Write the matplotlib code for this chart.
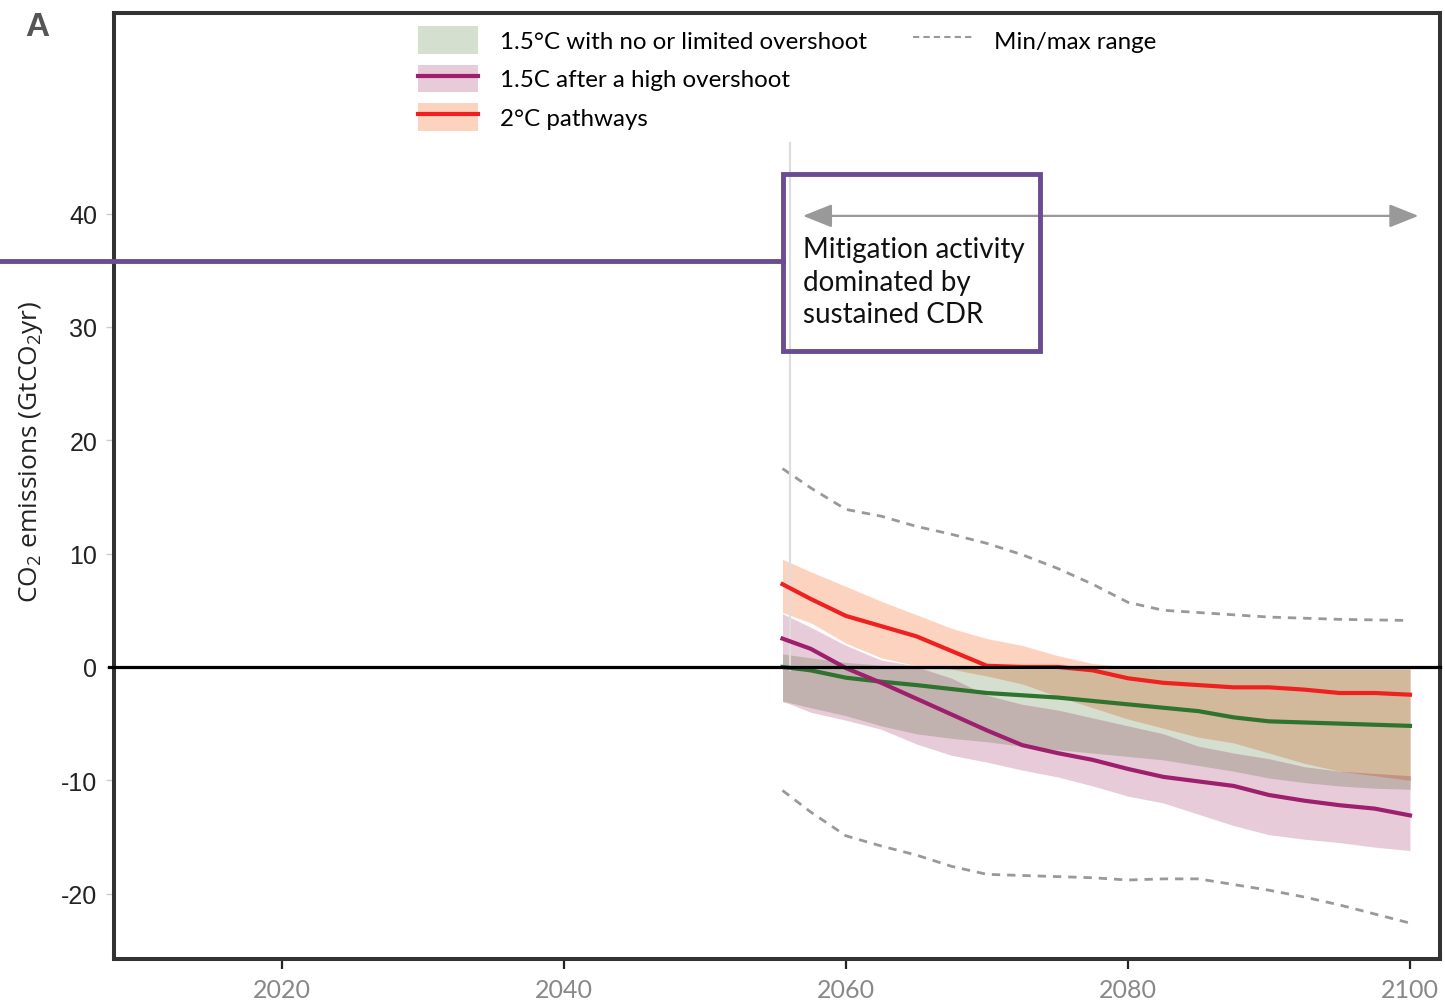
import numpy as np
import matplotlib
matplotlib.use('Agg')
import matplotlib.pyplot as plt
from matplotlib.patches import Patch, Rectangle
from matplotlib.lines import Line2D
from matplotlib.legend_handler import HandlerTuple
from matplotlib.colors import to_rgb

# pathway data (GtCO2/yr)
years = [2055.5, 2057.5, 2060, 2062.5, 2065, 2067.5, 2070, 2072.5, 2075, 2077.5,
         2080, 2082.5, 2085, 2087.5, 2090, 2092.5, 2095, 2097.5, 2100]

p15_med = [0.0, -0.3, -0.95, -1.3, -1.6, -1.95, -2.3, -2.5, -2.7, -3.0,
           -3.3, -3.6, -3.9, -4.45, -4.8, -4.9, -5.0, -5.1, -5.2]
p15_high = [1.15, 0.8, 0.4, 0.15, 0.0, -0.1, -0.2, -0.2, -0.2, -0.2,
            -0.2, -0.2, -0.2, -0.2, -0.2, -0.2, -0.2, -0.2, -0.2]
p15_low = [-3.1, -3.6, -4.3, -5.2, -5.9, -6.3, -6.6, -7.0, -7.3, -7.6,
           -7.9, -8.2, -8.7, -9.2, -9.8, -10.2, -10.5, -10.7, -10.8]

os_med = [2.5, 1.6, -0.1, -1.4, -2.8, -4.2, -5.6, -6.9, -7.6, -8.2,
          -9.0, -9.7, -10.1, -10.5, -11.3, -11.8, -12.2, -12.5, -13.1]
os_high = [4.7, 3.5, 1.9, 0.6, 0.1, -1.0, -2.5, -3.3, -3.8, -4.5,
           -5.2, -5.9, -7.0, -7.6, -8.1, -8.8, -9.2, -9.4, -9.6]
os_low = [-3.0, -4.0, -4.7, -5.5, -6.8, -7.8, -8.4, -9.1, -9.7, -10.5,
          -11.4, -12.0, -13.0, -14.0, -14.8, -15.2, -15.5, -15.9, -16.2]

p2_med = [7.3, 6.0, 4.5, 3.6, 2.7, 1.4, 0.1, 0.0, 0.0, -0.3,
          -1.0, -1.4, -1.6, -1.8, -1.8, -2.0, -2.3, -2.3, -2.45]
p2_high = [9.5, 8.4, 7.1, 5.8, 4.6, 3.4, 2.5, 1.9, 1.0, 0.3,
           0.0, -0.2, -0.2, -0.2, -0.2, -0.2, -0.2, -0.2, -0.2]
p2_low = [4.8, 3.9, 2.1, 0.8, 0.1, -0.2, -0.8, -1.5, -2.6, -3.6,
          -4.6, -5.4, -6.2, -6.7, -7.6, -8.5, -9.2, -9.6, -10.0]

range_max = [17.5, 15.8, 13.9, 13.3, 12.4, 11.7, 10.9, 9.9, 8.7, 7.3,
             5.7, 5.0, 4.8, 4.6, 4.4, 4.3, 4.2, 4.15, 4.1]
range_min = [-10.9, -12.8, -14.9, -15.8, -16.6, -17.6, -18.3, -18.4, -18.5, -18.6,
             -18.8, -18.7, -18.7, -19.2, -19.7, -20.3, -21.0, -21.8, -22.6]

labels = ['1.5°C with no or limited overshoot', '1.5C after a high overshoot',
          '2°C pathways', 'Min/max range']

c_green, c_pink, c_orange = '#d5dfcf', '#e8cbd8', '#fcd3bf'
l_green, l_purple, l_red = '#2e732e', '#9e1f6e', '#ee2020'
c_box = '#6a4c93'


def mult(*cols):
    out = np.ones(3)
    for c in cols:
        out = out * np.array(to_rgb(c))
    return tuple(out)


plt.rcParams['mathtext.fontset'] = 'custom'
plt.rcParams['mathtext.rm'] = 'Open Sans'
plt.rcParams['axes.unicode_minus'] = False

fig = plt.figure(figsize=(14.45, 10.03), dpi=100)
ax = fig.add_axes([114 / 1445, 1 - 960 / 1003, 1326 / 1445, 946 / 1003])

x = np.array(years)
bands = [(np.array(p15_low), np.array(p15_high), c_green),
         (np.array(os_low), np.array(os_high), c_pink),
         (np.array(p2_low), np.array(p2_high), c_orange)]

# single bands, then overlaps with multiplied colours
for lo, hi, c in bands:
    ax.fill_between(x, lo, hi, color=c, lw=0, zorder=1)
for i in range(3):
    for j in range(i + 1, 3):
        lo = np.maximum(bands[i][0], bands[j][0])
        hi = np.minimum(bands[i][1], bands[j][1])
        ax.fill_between(x, lo, hi, where=hi > lo, interpolate=True,
                        color=mult(bands[i][2], bands[j][2]), lw=0, zorder=1.5)
lo = np.maximum.reduce([b[0] for b in bands])
hi = np.minimum.reduce([b[1] for b in bands])
ax.fill_between(x, lo, hi, where=hi > lo, interpolate=True,
                color=mult(c_green, c_pink, c_orange), lw=0, zorder=1.8)

ax.plot(x, range_max, ls=(0, (3, 2.5)), color='#999999', lw=2, zorder=2)
ax.plot(x, range_min, ls=(0, (3, 2.5)), color='#999999', lw=2, zorder=2)

ax.plot(x, p2_med, color=l_red, lw=3, zorder=3)
ax.plot(x, p15_med, color=l_green, lw=3, zorder=3)
ax.plot(x, os_med, color=l_purple, lw=3, zorder=3)

ax.axhline(0, xmin=-0.004, xmax=1, color='black', lw=2.3, zorder=5, clip_on=False)

# annotation elements
ax.plot([2056.03, 2056.03], [46.2, -0.3], color='#dddddd', lw=1.5, zorder=2.5)
ax.plot([2000, 2055.55], [35.8, 35.8], color=c_box, lw=3.5, clip_on=False, zorder=6)
ax.add_patch(Rectangle((2055.55, 27.9), 18.2, 15.6, fill=False, ec=c_box, lw=3.5, zorder=6))
ax.annotate('', xy=(2100.6, 39.8), xytext=(2056.95, 39.8),
            arrowprops=dict(arrowstyle='<|-|>,head_length=1.0,head_width=0.4',
                            mutation_scale=18, color='#999999', lw=1.6,
                            shrinkA=0, shrinkB=0), zorder=4)
ax.text(2056.95, 38.0, 'Mitigation activity\ndominated by\nsustained CDR',
        family='Lato', fontsize=20, va='top', ha='left', linespacing=1.3,
        color='#111111', zorder=7)

ax.set_xlim(2008.09, 2102.13)
ax.set_ylim(-25.77, 57.7)
ax.set_xticks([2020, 2040, 2060, 2080, 2100])
ax.set_yticks([-20, -10, 0, 10, 20, 30, 40])
ax.tick_params(axis='x', length=7, width=1.6, color='#222222', labelcolor='#888888',
               labelsize=18, pad=7)
ax.tick_params(axis='y', length=6, width=1, color='#cccccc', labelcolor='#222222',
               labelsize=18, pad=6)
for lab in ax.get_xticklabels():
    lab.set_family('Lato')
for lab in ax.get_yticklabels():
    lab.set_family('Liberation Sans')
for sp in ax.spines.values():
    sp.set_linewidth(2.9)
    sp.set_color('#333333')

ax.set_ylabel(r'CO$_\mathrm{2}$ emissions (GtCO$_\mathrm{2}$yr)', family='Open Sans',
              fontsize=19, color='#222222')
ax.yaxis.set_label_coords(-0.052, 0.537)

fig.text(25 / 1445, 1 - 27 / 1003, 'A', family='Liberation Sans', weight='bold',
         fontsize=24, color='#555555', va='center', ha='left')

# legend
h1 = Patch(fc=c_green, ec='none')
h2 = (Patch(fc=c_pink, ec='none'), Line2D([], [], color=l_purple, lw=3))
h3 = (Patch(fc=c_orange, ec='none'), Line2D([], [], color=l_red, lw=3))
h4 = Line2D([], [], color='#999999', lw=1.5, ls=(0, (3, 2)))
empty = Patch(fc='none', ec='none')
leg = ax.legend([h1, h2, h3, h4, empty, empty], labels + ['', ''], ncol=2,
                loc='upper left', bbox_to_anchor=(0.2293, 0.9863), frameon=False,
                borderaxespad=0, borderpad=0, handlelength=2.48, handleheight=1.4,
                handletextpad=0.9, labelspacing=0.44, columnspacing=1.9,
                prop={'family': 'Lato', 'size': 17.4},
                handler_map={tuple: HandlerTuple(ndivide=1, pad=0)})

fig.savefig('out.png', dpi=100)
